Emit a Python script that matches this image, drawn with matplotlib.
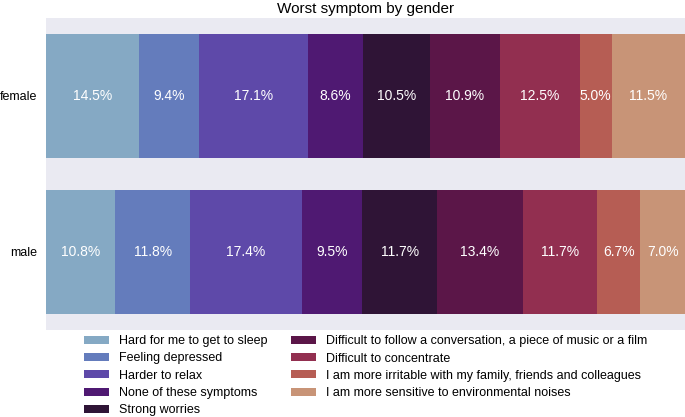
import matplotlib
matplotlib.use('Agg')
import matplotlib.pyplot as plt
import numpy as np

genders = ['female', 'male']
symptoms = [
    'Hard for me to get to sleep',
    'Feeling depressed',
    'Harder to relax',
    'None of these symptoms',
    'Strong worries',
    'Difficult to follow a conversation, a piece of music or a film',
    'Difficult to concentrate',
    'I am more irritable with my family, friends and colleagues',
    'I am more sensitive to environmental noises',
]
female_pct = [14.5, 9.4, 17.1, 8.6, 10.5, 10.9, 12.5, 5.0, 11.5]
male_pct = [10.8, 11.8, 17.4, 9.5, 11.7, 13.4, 11.7, 6.7, 7.0]

plt.rcParams['font.family'] = ['Liberation Sans', 'DejaVu Sans']

cmap = plt.get_cmap('twilight')
colors = [cmap(v) for v in np.linspace(0.15, 0.85, len(symptoms))]

data = np.array([female_pct, male_pct])
y = np.arange(len(genders))

fig = plt.figure(figsize=(6.85, 4.17), dpi=100)
ax = fig.add_axes([46 / 685, 1 - 330 / 417, 639 / 685, 312 / 417])
ax.set_facecolor('#EAEAF2')

left = np.zeros(len(genders))
for i, name in enumerate(symptoms):
    vals = data[:, i]
    bars = ax.barh(y, vals, left=left, height=0.8, color=colors[i], label=name)
    for b, v in zip(bars, vals):
        ax.text(b.get_x() + b.get_width() / 2, b.get_y() + b.get_height() / 2,
                f'{v:.1f}%', ha='center', va='center', color='white', fontsize=10)
    left += vals

ax.set_xlim(0, 100)
ax.set_ylim(1.5, -0.5)
ax.set_yticks(y)
ax.set_yticklabels(genders, fontsize=9)
ax.set_xticks([])
ax.tick_params(axis='y', length=0, pad=6.5)
for s in ax.spines.values():
    s.set_visible(False)

fig.text(0.5 + 23 / 685, 1 - 9 / 417, 'Worst symptom by gender', ha='center', va='center',
         fontsize=11)

fig.legend(loc='upper left', bbox_to_anchor=(73 / 685, 1 - 324 / 417), ncol=2,
           frameon=False, fontsize=9, handlelength=2.0, handleheight=0.6,
           labelspacing=0.42, columnspacing=1.85, handletextpad=0.8)

fig.savefig('out.png', dpi=100, facecolor='white')
